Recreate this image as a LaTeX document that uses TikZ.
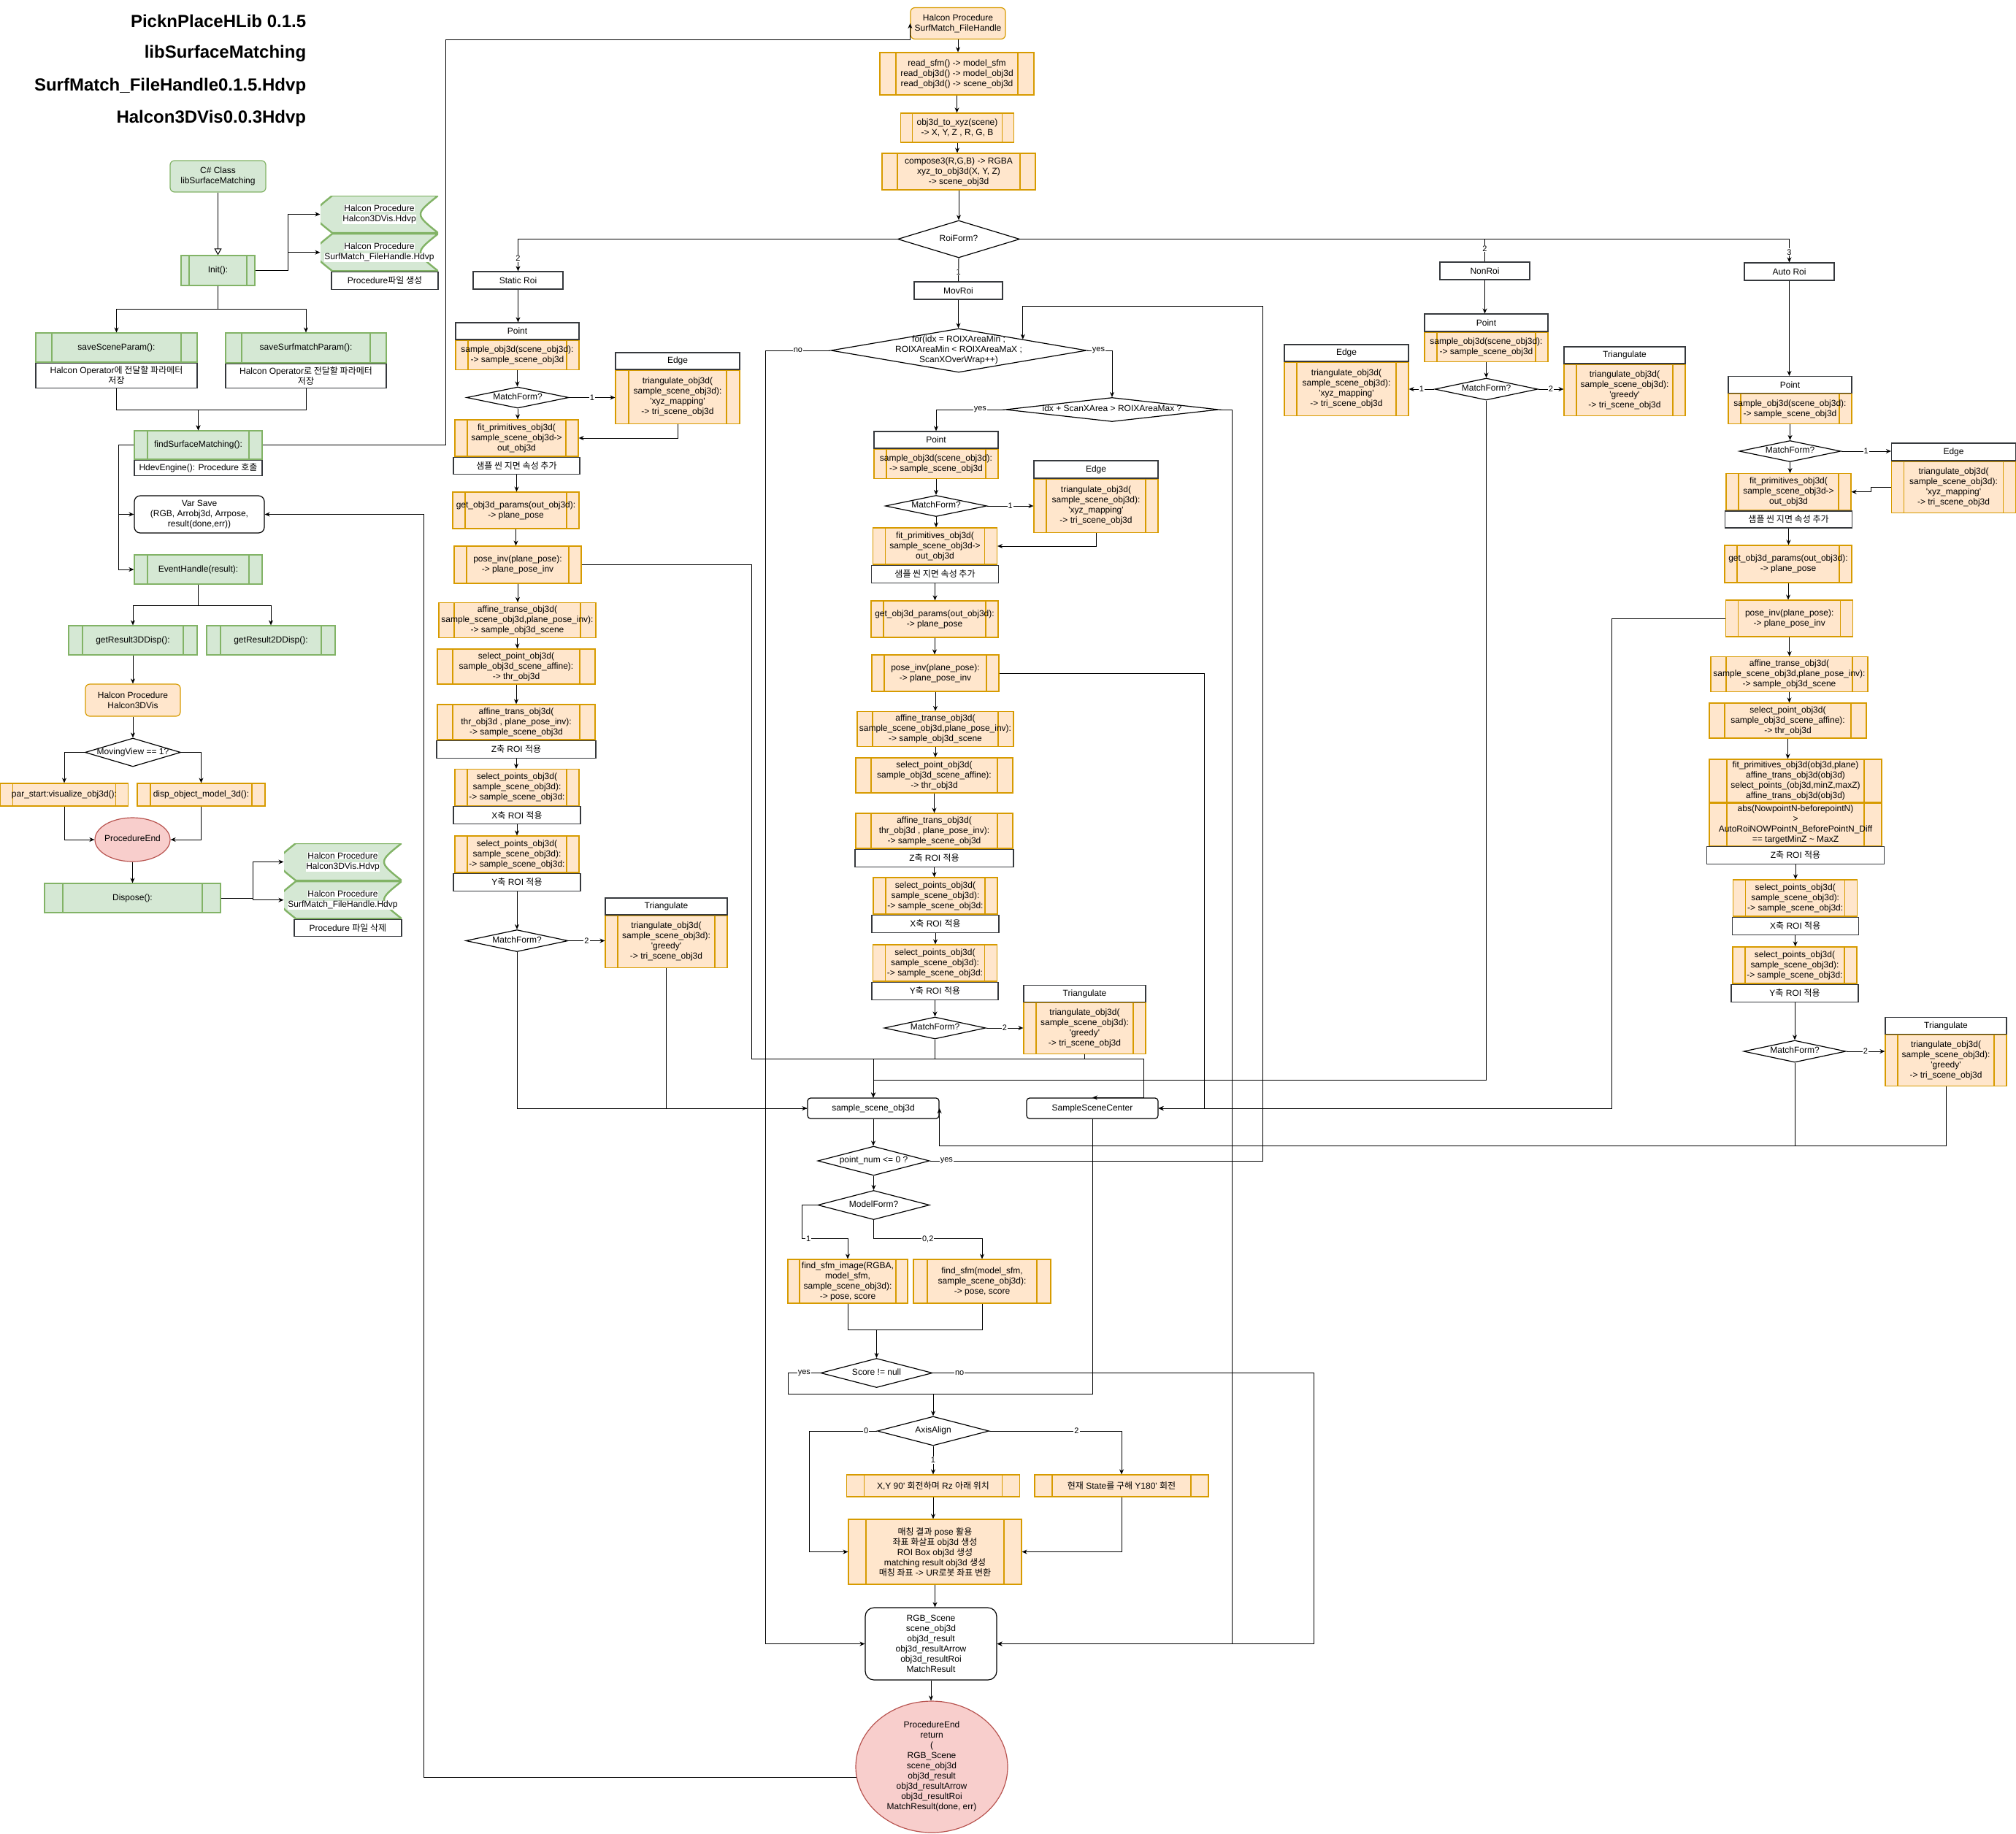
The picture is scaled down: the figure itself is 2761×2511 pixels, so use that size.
\documentclass[tikz,border=0pt]{standalone}
\usepackage{fontspec}
\setmainfont{Liberation Sans}
\newfontfamily\krfont{Noto Sans CJK KR}
\usetikzlibrary{arrows.meta,positioning,shapes.geometric}
\definecolor{OrFill}{HTML}{FFE6CC}
\definecolor{OrLine}{HTML}{D79B00}
\definecolor{GrFill}{HTML}{D5E8D4}
\definecolor{GrLine}{HTML}{82B366}
\definecolor{RdFill}{HTML}{F8CECC}
\definecolor{RdLine}{HTML}{B85450}
\definecolor{NoteLine}{HTML}{36393D}
\newcommand{\ko}[1]{{\krfont #1}}
\newcommand{\nw}[1]{\makebox[0pt]{\begin{tabular}{@{}c@{}}#1\end{tabular}}}
\newcommand{\apo}{\textquotesingle}
\newcommand{\wb}[1]{{\setlength{\fboxsep}{0.6pt}\colorbox{white}{#1}}}

\begin{document}
\begin{tikzpicture}[x=1pt, y=-1pt, line width=1pt,
  every node/.style={font=\fontsize{12}{14}\selectfont},
  barw/.store in=\barw, barw=17,
  arr/.style={-{Stealth[length=7pt,width=6pt]}},
  elbl/.style={fill=white, inner sep=1pt, font=\fontsize{11}{12}\selectfont},
  box/.style={rectangle, inner sep=1pt, align=center, line width=1.2pt},
  note/.style={box, draw=NoteLine, fill=white},
  bars/.style={path picture={\draw[#1, line width=1.2pt] ([xshift=\barw]path picture bounding box.north west) -- ([xshift=\barw]path picture bounding box.south west) ([xshift=-\barw]path picture bounding box.north east) -- ([xshift=-\barw]path picture bounding box.south east);}},
  orproc/.style={box, draw=OrLine, fill=OrFill, bars=OrLine},
  grproc/.style={box, draw=GrLine, fill=GrFill, bars=GrLine},
  orround/.style={box, draw=OrLine, fill=OrFill, rounded corners=6pt},
  grround/.style={box, draw=GrLine, fill=GrFill, rounded corners=6pt},
  wround/.style={box, draw=black, fill=white, rounded corners=8pt},
  dia/.style={diamond, draw=black, fill=white, inner sep=0pt, line width=1.2pt},
  endell/.style={ellipse, draw=RdLine, fill=RdFill, inner sep=0pt, line width=1.2pt},
  stored/.style={box, path picture={\path[draw=GrLine, fill=GrFill, line width=2.4pt]
      ([xshift=16pt]path picture bounding box.north west) -- (path picture bounding box.north east)
      .. controls ([xshift=-32pt]path picture bounding box.east) .. (path picture bounding box.south east)
      -- ([xshift=16pt]path picture bounding box.south west)
      .. controls ([xshift=-16pt]path picture bounding box.west) .. ([xshift=16pt]path picture bounding box.north west) -- cycle;}},
  title/.style={anchor=east, font=\fontsize{24}{29}\selectfont\bfseries}]
\useasboundingbox (0,0) rectangle (2761,2511);

% titles
\node[title] (t1) at (423,29) {PicknPlaceHLib 0.1.5};
\node[title] (t2) at (423,73.5) {libSurfaceMatching};
\node[title] (t3) at (423,118) {SurfMatch\_FileHandle0.1.5.Hdvp};
\node[title] (t4) at (423,162) {Halcon3DVis0.0.3Hdvp};

% C# side
\node[grround, minimum width=131, minimum height=43] (cls) at (298.5,241.5) {C\# Class\\libSurfaceMatching};
\node[grproc, barw=11, minimum width=101, minimum height=41] (init) at (298.5,370.5) {Init():};
\node[stored, minimum width=161, minimum height=51] (tp1) at (519.5,293.5) {\wb{Halcon Procedure}\\\wb{Halcon3DVis.Hdvp}};
\node[stored, minimum width=161, minimum height=51, below=0pt of tp1] (tp2) {\wb{Halcon Procedure}\\\wb{SurfMatch\_FileHandle.Hdvp}};
\node[note, minimum width=146, minimum height=24, anchor=north east] (tpn1) at (tp2.south east) {Procedure\ko{파일 생성}};
\node[grproc, barw=22, minimum width=221, minimum height=40] (ssp) at (159.5,476) {saveSceneParam():};
\node[note, minimum width=221, minimum height=34, below=0pt of ssp] (sspn) {Halcon Operator\ko{에 전달할 파라메터}\\\ko{저장}};
\node[grproc, barw=22, minimum width=220, minimum height=41] (smp) at (419,476.5) {saveSurfmatchParam():};
\node[note, minimum width=220, minimum height=33, below=0pt of smp] (smpn) {Halcon Operator\ko{로 전달할 파라메터}\\\ko{저장}};
\node[grproc, barw=18, minimum width=175, minimum height=39] (fsm) at (271.5,609.5) {findSurfaceMatching():};
\node[note, minimum width=175, minimum height=21, below=0pt of fsm] (fsmn) {HdevEngine(): Procedure \ko{호출}};
\node[wround, minimum width=178, minimum height=51] (vs) at (273,704.5) {Var Save\\(RGB, Arrobj3d, Arrpose,\\result(done,err))};
\node[grproc, barw=18, minimum width=175, minimum height=40] (evh) at (271.5,780) {EventHandle(result):};
\node[grproc, barw=19, minimum width=176, minimum height=40] (gr3) at (182,877) {getResult3DDisp():};
\node[grproc, barw=19, minimum width=176, minimum height=40] (gr2) at (371,877) {getResult2DDisp():};
\node[orround, minimum width=130, minimum height=44] (h3v) at (182,959) {Halcon Procedure\\Halcon3DVis};
\node[dia, minimum width=131, minimum height=39] (mvw) at (182,1030.5) {\nw{MovingView == 1?}};
\node[orproc, minimum width=175, minimum height=31] (pst) at (88,1088.5) {par\_start:visualize\_obj3d():};
\node[orproc, barw=18, minimum width=175, minimum height=31] (dom) at (275.5,1088.5) {disp\_object\_model\_3d():};
\node[endell, minimum width=103, minimum height=60] (pe) at (181.5,1150) {\nw{ProcedureEnd}};
\node[grproc, barw=25, minimum width=241, minimum height=40] (dsp) at (181.5,1230) {Dispose():};
\node[stored, minimum width=161, minimum height=51] (tp3) at (469.5,1180.5) {\wb{Halcon Procedure}\\\wb{Halcon3DVis.Hdvp}};
\node[stored, minimum width=161, minimum height=51, below=0pt of tp3] (tp4) {\wb{Halcon Procedure}\\\wb{SurfMatch\_FileHandle.Hdvp}};
\node[note, minimum width=147, minimum height=23, anchor=north east] (tpn2) at (tp4.south east) {Procedure \ko{파일 삭제}};

% procedure head
\node[orround, minimum width=130, minimum height=43] (hsf) at (1312,32) {Halcon Procedure\\SurfMatch\_FileHandle};
\node[orproc, barw=22, minimum width=211, minimum height=58] (rd) at (1310.5,101) {read\_sfm() -> model\_sfm\\read\_obj3d() -> model\_obj3d\\read\_obj3d() -> scene\_obj3d};
\node[orproc, barw=16, minimum width=155, minimum height=40] (xyz) at (1311,175) {obj3d\_to\_xyz(scene)\\-> X, Y, Z , R, G, B};
\node[orproc, barw=21, minimum width=210, minimum height=50] (cmp) at (1313,235) {compose3(R,G,B) -> RGBA\\xyz\_to\_obj3d(X, Y, Z)\\-> scene\_obj3d};
\node[dia, minimum width=167, minimum height=51] (rf) at (1313,327.5) {\nw{RoiForm?}};

% static roi
\node[note, minimum width=123, minimum height=24] (sr) at (709.5,384) {Static Roi};
\node[note, minimum width=169, minimum height=23] (spt) at (708.5,453.5) {Point};
\node[orproc, minimum width=169, minimum height=40, below=0pt of spt] (sps) {sample\_obj3d(scene\_obj3d):\\-> sample\_scene\_obj3d};
\node[dia, minimum width=140, minimum height=29] (smf) at (709,544.5) {\nw{MatchForm?}};
\node[note, minimum width=170, minimum height=23] (sed) at (928,494.5) {Edge};
\node[orproc, barw=18, minimum width=170, minimum height=73, below=0pt of sed] (sedb) {triangulate\_obj3d(\\sample\_scene\_obj3d):\\\apo xyz\_mapping\apo\\-> tri\_scene\_obj3d};
\node[orproc, minimum width=169, minimum height=50] (sfp) at (707.5,600) {fit\_primitives\_obj3d(\\sample\_scene\_obj3d->\\out\_obj3d};
\node[note, minimum width=173, minimum height=23, below=0pt of sfp] (sfpn) {\ko{샘플 씬 지면 속성 추가}};
\node[orproc, minimum width=173, minimum height=50] (sgp) at (706.5,699) {get\_obj3d\_params(out\_obj3d):\\-> plane\_pose};
\node[orproc, minimum width=174, minimum height=51] (spi) at (709,773.5) {pose\_inv(plane\_pose):\\-> plane\_pose\_inv};
\node[orproc, barw=21, minimum width=215, minimum height=48] (sat) at (708.5,849.5) {affine\_transe\_obj3d(\\sample\_scene\_obj3d,plane\_pose\_inv):\\-> sample\_obj3d\_scene};
\node[orproc, barw=21, minimum width=216, minimum height=48] (ssl) at (707,913) {select\_point\_obj3d(\\sample\_obj3d\_scene\_affine):\\-> thr\_obj3d};
\node[orproc, barw=21, minimum width=216, minimum height=48] (str) at (707,989) {affine\_trans\_obj3d(\\thr\_obj3d , plane\_pose\_inv):\\-> sample\_scene\_obj3d};
\node[note, minimum width=218, minimum height=24, below=0pt of str] (strn) {Z\ko{축} ROI \ko{적용}};
\node[orproc, minimum width=170, minimum height=50] (sx) at (708,1078.5) {select\_points\_obj3d(\\sample\_scene\_obj3d):\\-> sample\_scene\_obj3d:};
\node[note, minimum width=174, minimum height=24, below=0pt of sx] (sxn) {X\ko{축} ROI \ko{적용}};
\node[orproc, minimum width=170, minimum height=50] (sy) at (708,1170) {select\_points\_obj3d(\\sample\_scene\_obj3d):\\-> sample\_scene\_obj3d:};
\node[note, minimum width=174, minimum height=24, below=0pt of sy] (syn) {Y\ko{축} ROI \ko{적용}};
\node[dia, minimum width=140, minimum height=30] (smf2) at (708,1288.5) {\nw{MatchForm?}};
\node[note, minimum width=167, minimum height=23] (stri) at (912.5,1241.5) {Triangulate};
\node[orproc, minimum width=167, minimum height=71, below=0pt of stri] (strib) {triangulate\_obj3d(\\sample\_scene\_obj3d):\\\apo greedy\apo\\-> tri\_scene\_obj3d};

% mov roi
\node[note, minimum width=121, minimum height=24] (mov) at (1312.5,398) {MovRoi};
\node[dia, minimum width=350, minimum height=60] (forl) at (1313,480) {\nw{for(idx = ROIXAreaMin ;\\ROIXAreaMin < ROIXAreaMaX ;\\ScanXOverWrap++)}};
\node[dia, minimum width=292, minimum height=33] (idx) at (1523,561) {\nw{idx + ScanXArea > ROIXAreaMax ?}};
\node[note, minimum width=170, minimum height=23] (mpt) at (1282,602.5) {Point};
\node[orproc, minimum width=170, minimum height=40, below=0pt of mpt] (mps) {sample\_obj3d(scene\_obj3d):\\-> sample\_scene\_obj3d};
\node[dia, minimum width=139, minimum height=29] (mmf) at (1282,693) {\nw{MatchForm?}};
\node[note, minimum width=170, minimum height=24] (med) at (1501,643) {Edge};
\node[orproc, minimum width=170, minimum height=73, below=0pt of med] (medb) {triangulate\_obj3d(\\sample\_scene\_obj3d):\\\apo xyz\_mapping\apo\\-> tri\_scene\_obj3d};
\node[orproc, minimum width=170, minimum height=50] (mfp) at (1280.5,748) {fit\_primitives\_obj3d(\\sample\_scene\_obj3d->\\out\_obj3d};
\node[note, minimum width=174, minimum height=24, below=0pt of mfp] (mfpn) {\ko{샘플 씬 지면 속성 추가}};
\node[orproc, minimum width=174, minimum height=50] (mgp) at (1280,848) {get\_obj3d\_params(out\_obj3d):\\-> plane\_pose};
\node[orproc, minimum width=174, minimum height=50] (mpi) at (1281,922) {pose\_inv(plane\_pose):\\-> plane\_pose\_inv};
\node[orproc, barw=21, minimum width=214, minimum height=48] (mat) at (1281,998.5) {affine\_transe\_obj3d(\\sample\_scene\_obj3d,plane\_pose\_inv):\\-> sample\_obj3d\_scene};
\node[orproc, barw=21, minimum width=215, minimum height=48] (msl) at (1279.5,1062) {select\_point\_obj3d(\\sample\_obj3d\_scene\_affine):\\-> thr\_obj3d};
\node[orproc, barw=21, minimum width=215, minimum height=48] (mtr) at (1279.5,1138) {affine\_trans\_obj3d(\\thr\_obj3d , plane\_pose\_inv):\\-> sample\_scene\_obj3d};
\node[note, minimum width=217, minimum height=24, below=0pt of mtr] (mtrn) {Z\ko{축} ROI \ko{적용}};
\node[orproc, minimum width=170, minimum height=50] (mx) at (1281,1227) {select\_points\_obj3d(\\sample\_scene\_obj3d):\\-> sample\_scene\_obj3d:};
\node[note, minimum width=174, minimum height=24, below=0pt of mx] (mxn) {X\ko{축} ROI \ko{적용}};
\node[orproc, minimum width=170, minimum height=50] (my) at (1280.5,1319) {select\_points\_obj3d(\\sample\_scene\_obj3d):\\-> sample\_scene\_obj3d:};
\node[note, minimum width=173, minimum height=24, below=0pt of my] (myn) {Y\ko{축} ROI \ko{적용}};
\node[dia, minimum width=139, minimum height=30] (mmf2) at (1280.5,1408) {\nw{MatchForm?}};
\node[note, minimum width=167, minimum height=23] (mtri) at (1485.5,1361) {Triangulate};
\node[orproc, minimum width=167, minimum height=70, below=0pt of mtri] (mtrib) {triangulate\_obj3d(\\sample\_scene\_obj3d):\\\apo greedy\apo\\-> tri\_scene\_obj3d};

% non roi
\node[note, minimum width=123, minimum height=24] (nr) at (2033.5,371) {NonRoi};
\node[note, minimum width=169, minimum height=24] (npt) at (2035.5,442) {Point};
\node[orproc, minimum width=169, minimum height=40, below=0pt of npt] (nps) {sample\_obj3d(scene\_obj3d):\\-> sample\_scene\_obj3d};
\node[dia, minimum width=141, minimum height=30] (nmf) at (2035.5,533) {\nw{MatchForm?}};
\node[note, minimum width=170, minimum height=23] (ned) at (1844,483.5) {Edge};
\node[orproc, minimum width=170, minimum height=73, below=0pt of ned] (nedb) {triangulate\_obj3d(\\sample\_scene\_obj3d):\\\apo xyz\_mapping\apo\\-> tri\_scene\_obj3d};
\node[note, minimum width=166, minimum height=23] (ntr) at (2225,486.5) {Triangulate};
\node[orproc, minimum width=166, minimum height=70, below=0pt of ntr] (ntrb) {triangulate\_obj3d(\\sample\_scene\_obj3d):\\\apo greedy\apo\\-> tri\_scene\_obj3d};

% auto roi
\node[note, minimum width=123, minimum height=24] (ar) at (2450.5,372) {Auto Roi};
\node[note, minimum width=169, minimum height=23] (apt) at (2451.5,527) {Point};
\node[orproc, minimum width=169, minimum height=41, below=0pt of apt] (aps) {sample\_obj3d(scene\_obj3d):\\-> sample\_scene\_obj3d};
\node[dia, minimum width=139, minimum height=29] (amf) at (2451.5,618) {\nw{MatchForm?}};
\node[note, minimum width=170, minimum height=24] (aed) at (2675.5,619) {Edge};
\node[orproc, minimum width=170, minimum height=70, below=0pt of aed] (aedb) {triangulate\_obj3d(\\sample\_scene\_obj3d):\\\apo xyz\_mapping\apo\\-> tri\_scene\_obj3d};
\node[orproc, minimum width=171, minimum height=50] (afp) at (2449.5,673.7) {fit\_primitives\_obj3d(\\sample\_scene\_obj3d->\\out\_obj3d};
\node[note, minimum width=174, minimum height=23, below=0pt of afp] (afpn) {\ko{샘플 씬 지면 속성 추가}};
\node[orproc, minimum width=174, minimum height=51] (agp) at (2449,772.4) {get\_obj3d\_params(out\_obj3d):\\-> plane\_pose};
\node[orproc, minimum width=174, minimum height=50] (api) at (2450.7,847) {pose\_inv(plane\_pose):\\-> plane\_pose\_inv};
\node[orproc, barw=21, minimum width=215, minimum height=48] (aat) at (2450.5,923.5) {affine\_transe\_obj3d(\\sample\_scene\_obj3d,plane\_pose\_inv):\\-> sample\_obj3d\_scene};
\node[orproc, barw=21, minimum width=215, minimum height=48] (asl) at (2448.5,987) {select\_point\_obj3d(\\sample\_obj3d\_scene\_affine):\\-> thr\_obj3d};
\node[orproc, barw=24, minimum width=236, minimum height=59] (abg) at (2459,1069.5) {fit\_primitives\_obj3d(obj3d,plane)\\affine\_trans\_obj3d(obj3d)\\select\_points\_(obj3d,minZ,maxZ)\\affine\_trans\_obj3d(obj3d)};
\node[orproc, barw=24, minimum width=236, minimum height=58, below=0pt of abg] (abg2) {abs(NowpointN-beforepointN)\\>\\AutoRoiNOWPointN\_BeforePointN\_Diff\\== targetMinZ \textasciitilde{} MaxZ};
\node[note, minimum width=243, minimum height=24, below=0pt of abg2] (abgn) {Z\ko{축} ROI \ko{적용}};
\node[orproc, minimum width=170, minimum height=50] (ax) at (2458.7,1230) {select\_points\_obj3d(\\sample\_scene\_obj3d):\\-> sample\_scene\_obj3d:};
\node[note, minimum width=173, minimum height=24, below=0pt of ax] (axn) {X\ko{축} ROI \ko{적용}};
\node[orproc, minimum width=170, minimum height=50] (ay) at (2458,1322) {select\_points\_obj3d(\\sample\_scene\_obj3d):\\-> sample\_scene\_obj3d:};
\node[note, minimum width=174, minimum height=24, below=0pt of ay] (ayn) {Y\ko{축} ROI \ko{적용}};
\node[dia, minimum width=140, minimum height=30] (amf2) at (2458,1440) {\nw{MatchForm?}};
\node[note, minimum width=166, minimum height=23] (atr) at (2665,1405) {Triangulate};
\node[orproc, minimum width=166, minimum height=70, below=0pt of atr] (atrb) {triangulate\_obj3d(\\sample\_scene\_obj3d):\\\apo greedy\apo\\-> tri\_scene\_obj3d};

% matching part
\node[wround, rounded corners=4pt, minimum width=180, minimum height=28] (sso) at (1196,1518) {sample\_scene\_obj3d};
\node[wround, rounded corners=4pt, minimum width=180, minimum height=28] (ssc) at (1496,1518) {SampleSceneCenter};
\node[dia, minimum width=153, minimum height=40] (pn) at (1196.5,1590) {\nw{point\_num <= 0 ?}};
\node[dia, minimum width=153, minimum height=40] (mfm) at (1196.5,1650.5) {\nw{ModelForm?}};
\node[orproc, barw=16, minimum width=164, minimum height=60] (fsi) at (1161,1755) {find\_sfm\_image(RGBA,\\model\_sfm,\\sample\_scene\_obj3d):\\-> pose, score};
\node[orproc, barw=19, minimum width=188, minimum height=60] (fsf) at (1345,1755) {find\_sfm(model\_sfm,\\sample\_scene\_obj3d):\\-> pose, score};
\node[dia, minimum width=153, minimum height=40] (sc) at (1200.5,1880.5) {\nw{Score != null}};
\node[dia, minimum width=153, minimum height=40] (aa) at (1278,1960) {\nw{AxisAlign}};
\node[orproc, barw=24, minimum width=237, minimum height=30] (xyr) at (1278,2035) {X,Y 90\apo{} \ko{회전하며} Rz \ko{아래 위치}};
\node[orproc, barw=24, minimum width=238, minimum height=30] (cst) at (1536,2035) {\ko{현재} State\ko{를 구해} Y180\apo{} \ko{회전}};
\node[orproc, barw=24, minimum width=237, minimum height=89] (fin) at (1280.5,2125.5) {\ko{매칭 결과} pose \ko{활용}\\\ko{좌표 화살표} obj3d \ko{생성}\\ROI Box obj3d \ko{생성}\\matching result obj3d \ko{생성}\\\ko{매칭 좌표} -> UR\ko{로봇 좌표 변환}};
\node[wround, rounded corners=12pt, minimum width=180, minimum height=99] (rgb) at (1275,2251.5) {RGB\_Scene\\scene\_obj3d\\obj3d\_result\\obj3d\_resultArrow\\obj3d\_resultRoi\\MatchResult};
\node[endell, minimum width=208, minimum height=180] (ret) at (1276,2420) {\nw{ProcedureEnd\\return\\(\\RGB\_Scene\\scene\_obj3d\\obj3d\_result\\obj3d\_resultArrow\\obj3d\_resultRoi\\MatchResult(done, err)}};

% connectors, C# side
\draw[-{Triangle[open,length=9pt,width=10pt]}] (cls.south) -- (init.north);
\draw[arr] (init.east) -- ++(45,0) |- (tp1.west);
\draw[arr] (init.east) -- ++(45,0) |- (tp2.west);
\draw[arr] (init.south) -- ++(0,32) -| (ssp.north);
\draw[arr] (init.south) -- ++(0,32) -| (smp.north);
\draw[arr] (sspn.south) -- ++(0,30) -| (fsm.north);
\draw[arr] (smpn.south) -- ++(0,30) -| (fsm.north);
\draw[arr] (fsm.west) -- ++(-21,0) |- (vs.west);
\draw[arr] (fsm.west) -- ++(-21,0) |- (evh.west);
\draw[arr] (fsm.east) -| ([xshift=-636pt]hsf.south west) -- (hsf.south west) -- (hsf.west);
\draw[arr] (evh.south) -- ++(0,29) -| (gr3.north);
\draw[arr] (evh.south) -- ++(0,29) -| (gr2.north);
\draw[arr] (gr3.south) -- (h3v.north);
\draw[arr] (h3v.south) -- (mvw.north);
\draw[arr] (mvw.west) -| (pst.north);
\draw[arr] (mvw.east) -| (dom.north);
\draw[arr] (pst.south) |- (pe.west);
\draw[arr] (dom.south) |- (pe.east);
\draw[arr] (pe.south) -- (dsp.north);
\draw[arr] (dsp.east) -- ++(44,0) |- (tp3.west);
\draw[arr] (dsp.east) -- ++(44,0) |- (tp4.west);

% head and roi branches
\draw[arr] (hsf.south) -- (hsf.south |- rd.north);
\draw[arr] (rd.south) -- (rd.south |- xyz.north);
\draw[arr] (xyz.south) -- (xyz.south |- cmp.north);
\draw[arr] (cmp.south) -- (rf.north);
\draw (rf.south) -- node[elbl,pos=0.6]{1} (mov.north);
\draw[arr] (rf.west) -| node[elbl,pos=0.8]{2} (sr.north);
\draw (rf.east) -| node[elbl,pos=0.71]{2} (nr.north);
\draw[arr] (rf.east) -| node[elbl,pos=0.78]{3} (ar.north);

% static roi
\draw[arr] (sr.south) -- (sr.south |- spt.north);
\draw[arr] (sps.south) -- (sps.south |- smf.north);
\draw[arr] (smf.east) -- node[elbl]{1} (smf.east -| sedb.west);
\draw[arr] (sedb.south) |- (sfp.east);
\draw[arr] (smf.south) -- (smf.south |- sfp.north);
\draw[arr] (sfpn.south) -- (sfpn.south |- sgp.north);
\draw[arr] (sgp.south) -- (sgp.south |- spi.north);
\draw[arr] (spi.south) -- (spi.south |- sat.north);
\draw[arr] (sat.south) -- (sat.south |- ssl.north);
\draw[arr] (ssl.south) -- (ssl.south |- str.north);
\draw[arr] (strn.south) -- (strn.south |- sx.north);
\draw[arr] (sxn.south) -- (sxn.south |- sy.north);
\draw[arr] (syn.south) -- (syn.south |- smf2.north);
\draw[arr] (smf2.east) -- node[elbl]{2} (smf2.east -| strib.west);
\draw[arr] (spi.east) -- ++(233,0) |- ([xshift=70pt,yshift=53pt]ssc.north) -- ([xshift=70pt]ssc.north) -- (ssc.north);
\draw[arr] (smf2.south) |- (sso.west);
\draw (strib.south) |- (sso.west);

% mov roi
\draw[arr] (mov.south) -- (mov.south |- forl.north);
\draw[arr] (forl.east) -| node[elbl,pos=0.23]{yes} (idx.north);
\draw[arr] (forl.west) -- node[elbl]{no} ++(-89,0) |- (rgb.west);
\draw[arr] (idx.west) -| node[elbl,pos=0.18]{yes} (mpt.north);
\draw[arr] (idx.east) -- ++(18,0) |- (rgb.east);
\draw[arr] (mps.south) -- (mps.south |- mmf.north);
\draw[arr] (mmf.east) -- node[elbl]{1} (mmf.east -| medb.west);
\draw[arr] (medb.south) |- (mfp.east);
\draw[arr] (mmf.south) -- (mmf.south |- mfp.north);
\draw[arr] (mfpn.south) -- (mfpn.south |- mgp.north);
\draw[arr] (mgp.south) -- (mgp.south |- mpi.north);
\draw[arr] (mpi.south) -- (mpi.south |- mat.north);
\draw[arr] (mat.south) -- (mat.south |- msl.north);
\draw[arr] (msl.south) -- (msl.south |- mtr.north);
\draw[arr] (mtrn.south) -- (mtrn.south |- mx.north);
\draw[arr] (mxn.south) -- (mxn.south |- my.north);
\draw[arr] (myn.south) -- (myn.south |- mmf2.north);
\draw[arr] (mmf2.east) -- node[elbl]{2} (mmf2.east -| mtrib.west);
\draw[arr] (mpi.east) -- ++(281,0) |- (ssc.east);
\draw[arr] (mmf2.south) |- ([yshift=53pt]sso.north) -- (sso.north);
\draw (mtrib.south) |- ([yshift=53pt]sso.north);

% non roi
\draw[arr] (nr.south) -- (nr.south |- npt.north);
\draw[arr] (nps.south) -- (nps.south |- nmf.north);
\draw[arr] (nmf.west) -- node[elbl]{1} (nmf.west -| nedb.east);
\draw[arr] (nmf.east) -- node[elbl]{2} (nmf.east -| ntrb.west);
\draw[arr] (nmf.south) |- ([yshift=24pt]sso.north) -- (sso.north);

% auto roi
\draw[arr] (ar.south) -- (ar.south |- apt.north);
\draw[arr] (aps.south) -- (aps.south |- amf.north);
\draw[arr] (amf.east) -- node[elbl]{1} (amf.east -| aed.west);
\draw[arr] (aedb.west) -- ++(-27,0) |- (afp.east);
\draw[arr] (amf.south) -- (amf.south |- afp.north);
\draw[arr] (afpn.south) -- (afpn.south |- agp.north);
\draw[arr] (agp.south) -- (agp.south |- api.north);
\draw[arr] (api.south) -- (api.south |- aat.north);
\draw[arr] (aat.south) -- (aat.south |- asl.north);
\draw[arr] (asl.south) -- (asl.south |- abg.north);
\draw[arr] (abgn.south) -- (abgn.south |- ax.north);
\draw[arr] (axn.south) -- (axn.south |- ay.north);
\draw[arr] (ayn.south) -- (ayn.south |- amf2.north);
\draw[arr] (amf2.east) -- node[elbl]{2} (amf2.east -| atrb.west);
\draw[arr] (api.west) -- ++(-156,0) |- (ssc.east);
\draw[arr] (amf2.south) |- ([yshift=-37pt]sso.south east) -- (sso.east);
\draw (atrb.south) |- ([yshift=-37pt]sso.south east);

% matching
\draw[arr] (sso.south) -- (sso.south |- pn.north);
\draw[arr] (pn.south) -- (mfm.north);
\draw[arr] (pn.east) -- node[elbl,pos=0.05]{yes} ++(456,0) |- ([yshift=45pt]forl.north east) -- (forl.north east);
\draw[arr] (mfm.west) -- ++(-21,0) |- node[elbl,pos=0.57]{1} ([yshift=27.5pt]fsi.north) -- (fsi.north);
\draw[arr] (mfm.south) |- node[elbl,pos=0.75]{0,2} ([yshift=27.5pt]fsf.north) -- (fsf.north);
\draw[arr] (fsi.south) |- ([yshift=38pt]sc.north) -- (sc.north);
\draw (fsf.south) |- ([yshift=38pt]sc.north);
\draw[arr] (sc.west) -- node[elbl]{yes} ++(-44,0) |- ([yshift=30pt]aa.north) -- (aa.north);
\draw (ssc.south) |- ([yshift=30pt]aa.north);
\draw[arr] (sc.east) -- node[elbl,pos=0.07]{no} ++(522,0) |- (rgb.east);
\draw[arr] (aa.west) -- node[elbl,pos=0.16]{0} ++(-92,0) |- (fin.west);
\draw[arr] (aa.east) -| node[elbl,pos=0.33]{2} (cst.north);
\draw[arr] (aa.south) -- node[elbl]{1} (aa.south |- xyr.north);
\draw[arr] (xyr.south) -- (xyr.south |- fin.north);
\draw[arr] (cst.south) |- (fin.east);
\draw[arr] (fin.south) -- (fin.south |- rgb.north);
\draw[arr] (rgb.south) -- (rgb.south |- ret.north);
\draw[arr] (ret.188) -| ([xshift=218pt]vs.east) -- (vs.east);
\end{tikzpicture}
\end{document}
